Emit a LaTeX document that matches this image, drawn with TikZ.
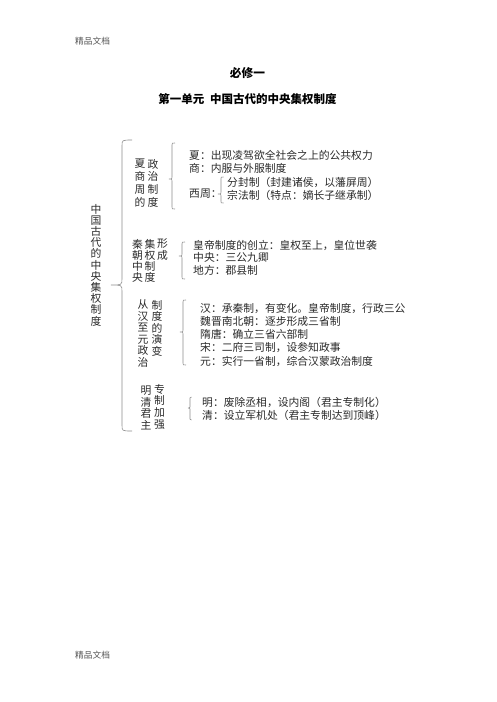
\documentclass[tikz,border=0pt]{standalone}
\usepackage{fontspec}
\newfontfamily\cjk{Noto Sans CJK SC}
\definecolor{ink}{HTML}{2A2A2A}
\definecolor{brkgray}{HTML}{8C8C8C}
\definecolor{hdr}{HTML}{555555}
\newcommand\grpbrace[6]{% x, top, tip, bottom, hook, tipwidth
  \draw[brk] ({#1+#5},#2) .. controls (#1,#2) .. (#1,{#2+0.6*#5})
    -- (#1,{#3-0.6*#6}) .. controls (#1,#3) .. ({#1-#6},#3)
    .. controls (#1,#3) .. (#1,{#3+0.6*#6})
    -- (#1,{#4-0.6*#5}) .. controls (#1,#4) .. ({#1+#5},#4);}
\begin{document}
\begin{tikzpicture}[x=1pt,y=-1pt,
  txt/.style={anchor=west,inner sep=0pt,font=\cjk\fontsize{10.8}{13}\selectfont,text=ink},
  col/.style={inner sep=0pt,align=center,font=\cjk\fontsize{10.8}{#1}\selectfont,text=ink},
  hd/.style={anchor=west,inner sep=0pt,font=\cjk\fontsize{8.7}{10}\selectfont,text=hdr},
  ttl/.style={inner sep=0pt,font=\cjk\bfseries\fontsize{#1}{14}\selectfont,text=black},
  brk/.style={draw=brkgray,line width=0.6pt}]
\useasboundingbox (0,0) rectangle (496,702);
\fill[white] (0,0) rectangle (496,702);

% header / footer
\node[hd] (head) at (75,41) {精品文档};
\node[hd] (foot) at (75,655) {精品文档};

% titles
\node[ttl=11.7] (t1) at (247.5,73) {必修一};
\node[ttl=11.5] (t2) at (247.5,99) {第一单元\hspace{0.5em}中国古代的中央集权制度};

% main vertical label and brace
\node[col=11.2] (main) at (96,265) {中\\国\\古\\代\\的\\中\\央\\集\\权\\制\\度};
\grpbrace{122}{140}{285}{431}{10}{11}

% group 1
\node[col=12.7] (g1a) at (140,183) {夏\\商\\周\\的};
\node[col=12.7] (g1b) at (153,183) {政\\治\\制\\度};
\grpbrace{172}{143}{179}{209}{3}{3}
\node[txt] (l11) at (189,155) {夏：出现凌驾欲全社会之上的公共权力};
\node[txt] (l12) at (189,168) {商：内服与外服制度};
\node[txt] (l13) at (189,194) {西周：};
\grpbrace{221}{177}{194}{203}{2.5}{3}
\node[txt] (l14) at (227,182) {分封制（封建诸侯，以藩屏周）};
\node[txt] (l15) at (227,195) {宗法制（特点：嫡长子继承制）};

% group 2
\node[col=11.1] (g2a) at (137.5,261) {秦\\朝\\中\\央};
\node[col=11.1] (g2b) at (150,261) {集\\权\\制\\度};
\node[col=11.1] (g2c) at (162.5,249.5) {形\\成};
\grpbrace{182}{242}{256}{279}{3}{3}
\node[txt] (l21) at (193,245) {皇帝制度的创立：皇权至上，皇位世袭};
\node[txt] (l22) at (193,257.5) {中央：三公九卿};
\node[txt] (l23) at (193,270) {地方：郡县制};

% group 3
\node[col=11.5] (g3a) at (143,333.75) {从\\汉\\至\\元\\政\\治};
\node[col=11.5] (g3b) at (157,328) {制\\度\\的\\演\\变};
\grpbrace{183}{300}{332}{365}{3}{3}
\node[txt] (l31) at (200,308) {汉：承秦制，有变化。皇帝制度，行政三公};
\node[txt] (l32) at (200,321.3) {魏晋南北朝：逐步形成三省制};
\node[txt] (l33) at (200,334.6) {隋唐：确立三省六部制};
\node[txt] (l34) at (200,347.9) {宋：二府三司制，设参知政事};
\node[txt] (l35) at (200,361.2) {元：实行一省制，综合汉蒙政治制度};

% group 4
\node[col=11.7] (g4a) at (146,408) {明\\清\\君\\主};
\node[col=11.7] (g4b) at (159.5,406.5) {专\\制\\加\\强};
\grpbrace{190}{397}{408}{420}{1.5}{1.5}
\node[txt] (l41) at (202,402) {明：废除丞相，设内阁（君主专制化）};
\node[txt] (l42) at (202,415) {清：设立军机处（君主专制达到顶峰）};
\end{tikzpicture}
\end{document}
